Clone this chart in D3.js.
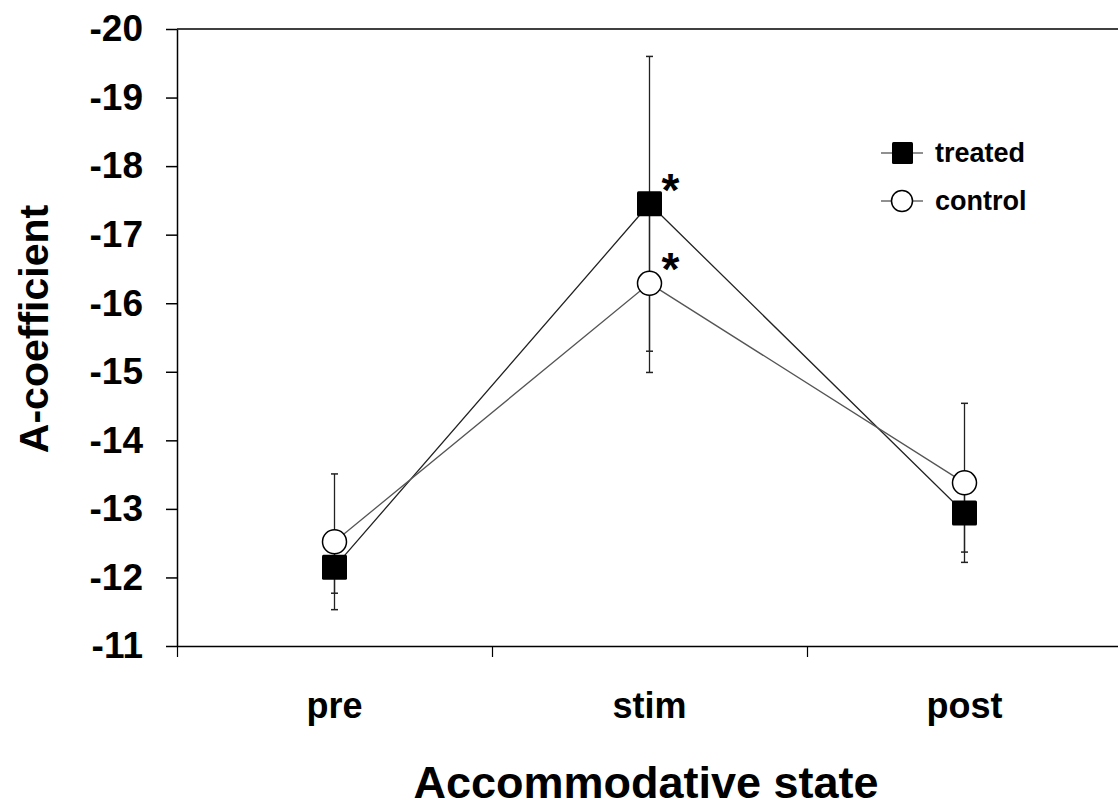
<!DOCTYPE html>
<html>
<head>
<meta charset="utf-8">
<script src="https://cdn.jsdelivr.net/npm/d3@7"></script>
<style>
  body { margin: 0; background: #fff; }
  svg { display: block; font-family: "Liberation Sans", Arial, sans-serif; font-weight: bold; }
</style>
</head>
<body>
<svg id="chart" width="1118" height="807"></svg>
<script>
const categories = ["pre", "stim", "post"];
const treatedMean = [-12.15, -17.45, -12.94];
const treatedErr = [0.38, 2.15, 0.57];
const controlMean = [-12.52, -16.29, -13.38];
const controlErr = [0.99, 1.3, 1.16];
const treatedSig = [false, true, false];
const controlSig = [false, true, false];
const yTicks = [-20, -19, -18, -17, -16, -15, -14, -13, -12, -11];
const seriesNames = ["treated", "control"];

const svg = d3.select("#chart");
const plot = { left: 177, right: 1122, top: 29, bottom: 646 };

// x: one unit per category, ticks on the band edges
const x = d3.scaleLinear().domain([0, categories.length]).range([plot.left, plot.right]);
const y = d3.scaleLinear().domain([-11, -20]).range([plot.bottom, plot.top]);
const cx = (i) => x(i + 0.5);

// frame top line
svg.append("line")
  .attr("x1", plot.left).attr("x2", plot.right)
  .attr("y1", plot.top).attr("y2", plot.top)
  .attr("stroke", "#000").attr("stroke-width", 1.5);

// plain hyphen for the minus sign, like the original
const yAxis = svg.append("g")
  .attr("transform", `translate(${plot.left},0)`)
  .call(d3.axisLeft(y).tickValues(yTicks).tickSize(11).tickSizeOuter(0).tickPadding(23).tickFormat((d) => String(d)));
yAxis.select(".domain").attr("stroke-width", 1.5);
yAxis.selectAll(".tick line").attr("stroke-width", 1.5);
yAxis.selectAll("text").attr("font-size", 37).attr("font-weight", "bold").attr("fill", "#000")
  .attr("font-family", "Liberation Sans, Arial, sans-serif");

const xAxis = svg.append("g")
  .attr("transform", `translate(0,${plot.bottom})`)
  .call(d3.axisBottom(x).tickValues(d3.range(categories.length + 1)).tickSize(11).tickSizeOuter(0).tickFormat(""));
xAxis.select(".domain").attr("stroke-width", 1.5);
xAxis.selectAll(".tick line").attr("stroke-width", 1.2);

// category labels
svg.selectAll(".xlab")
  .data(categories)
  .enter().append("text")
  .attr("class", "xlab")
  .attr("x", (d, i) => cx(i))
  .attr("y", 718)
  .attr("text-anchor", "middle")
  .attr("font-size", 36)
  .text((d) => d);

// axis titles
svg.append("text")
  .attr("x", 646).attr("y", 798)
  .attr("text-anchor", "middle")
  .attr("font-size", 45)
  .text("Accommodative state");

svg.append("text")
  .attr("transform", "translate(48,329) rotate(-90)")
  .attr("text-anchor", "middle")
  .attr("font-size", 41)
  .text("A-coefficient");

const series = [
  { mean: treatedMean, err: treatedErr, sig: treatedSig, color: "#222" },
  { mean: controlMean, err: controlErr, sig: controlSig, color: "#555" }
];

const line = d3.line().x((d, i) => cx(i)).y((d) => y(d));

// connecting lines
series.forEach((s) => {
  svg.append("path")
    .attr("d", line(s.mean))
    .attr("fill", "none")
    .attr("stroke", s.color)
    .attr("stroke-width", 1.3);
});

// error bars
series.forEach((s) => {
  const g = svg.append("g");
  s.mean.forEach((m, i) => {
    const lo = y(m + s.err[i]), hi = y(m - s.err[i]);
    g.append("line").attr("x1", cx(i)).attr("x2", cx(i)).attr("y1", lo).attr("y2", hi)
      .attr("stroke", "#222").attr("stroke-width", 1.3);
    [lo, hi].forEach((yy) => {
      g.append("line").attr("x1", cx(i) - 3.5).attr("x2", cx(i) + 3.5).attr("y1", yy).attr("y2", yy)
        .attr("stroke", "#222").attr("stroke-width", 1.5);
    });
  });
});

// markers: control circles under treated squares
const ctrl = series[1], trt = series[0];
svg.selectAll(".ctrl")
  .data(ctrl.mean)
  .enter().append("circle")
  .attr("cx", (d, i) => cx(i)).attr("cy", (d) => y(d))
  .attr("r", 12)
  .attr("fill", "#fff").attr("stroke", "#000").attr("stroke-width", 1.5);

svg.selectAll(".trt")
  .data(trt.mean)
  .enter().append("rect")
  .attr("x", (d, i) => cx(i) - 12.5).attr("y", (d) => y(d) - 12.5)
  .attr("width", 25).attr("height", 25)
  .attr("rx", 1.5)
  .attr("fill", "#000");

// significance asterisks
series.forEach((s) => {
  s.mean.forEach((m, i) => {
    if (!s.sig[i]) return;
    svg.append("text")
      .attr("x", cx(i) + 21)
      .attr("y", y(m) + 2)
      .attr("text-anchor", "middle")
      .attr("font-size", 46)
      .text("*");
  });
});

// legend
const legend = svg.append("g");
seriesNames.forEach((name, i) => {
  const ly = 153 + i * 48;
  legend.append("line").attr("x1", 881).attr("x2", 923).attr("y1", ly).attr("y2", ly)
    .attr("stroke", "#222").attr("stroke-width", 1.2);
  if (i === 0) {
    legend.append("rect").attr("x", 892).attr("y", ly - 11).attr("width", 21).attr("height", 22)
      .attr("rx", 1.5).attr("fill", "#000");
  } else {
    legend.append("circle").attr("cx", 902).attr("cy", ly).attr("r", 10.5)
      .attr("fill", "#fff").attr("stroke", "#000").attr("stroke-width", 1.5);
  }
  legend.append("text").attr("x", 935).attr("y", ly + 9)
    .attr("font-size", 27)
    .text(name);
});
</script>
</body>
</html>
